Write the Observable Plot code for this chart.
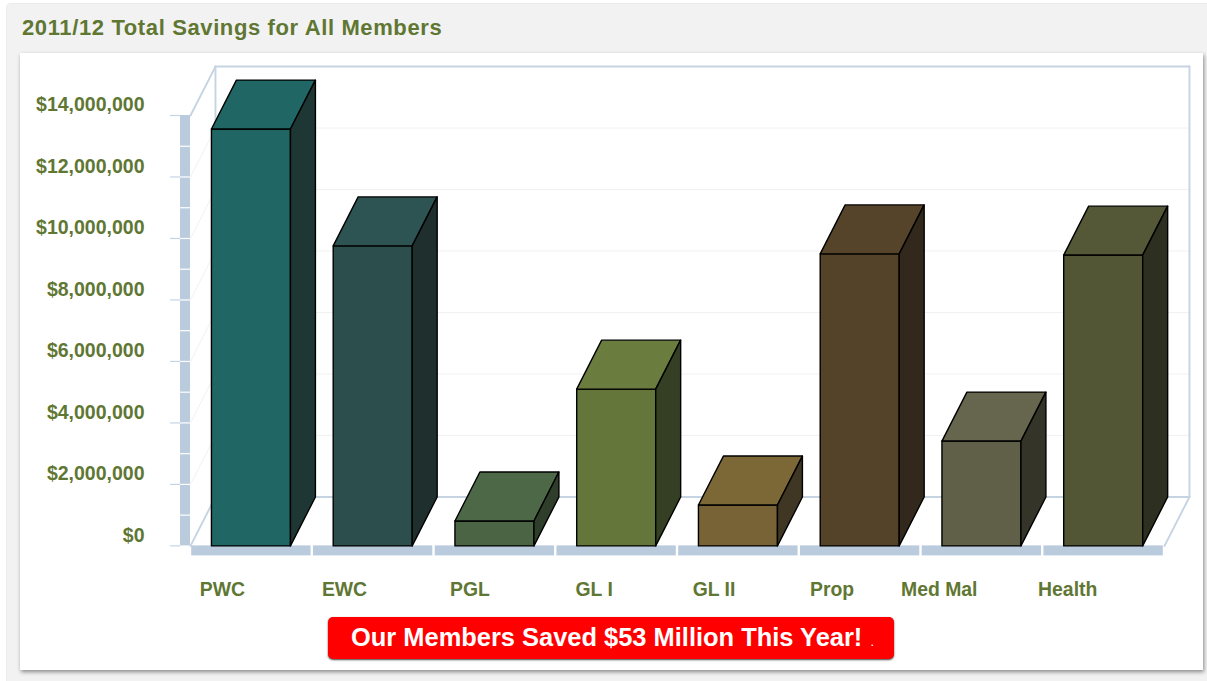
<!DOCTYPE html>
<html>
<head>
<meta charset="utf-8">
<script src="https://cdn.jsdelivr.net/npm/d3@7"></script>
<script src="https://cdn.jsdelivr.net/npm/@observablehq/plot@0.6"></script>
<style>
  html, body { margin: 0; padding: 0; background: #fff; overflow: hidden; }
  body { width: 1207px; height: 681px; position: relative; font-family: "Liberation Sans", Arial, sans-serif; }
  #panel { position: absolute; left: 6px; top: 3px; width: 1201px; height: 678px; background: #f2f2f2;
           border-top: 1px solid #ebebeb; border-left: 1px solid #ebebeb; border-top-left-radius: 5px; box-sizing: border-box; }
  #title { position: absolute; left: 22px; top: 15px; font-size: 22px; font-weight: bold; color: #5f7733; letter-spacing: 0.62px; white-space: nowrap; }
  #card { position: absolute; left: 20px; top: 53px; width: 1183px; height: 617px; background: #fff; box-shadow: 1px 2px 4px #8a8a8a; }
  #chart svg { display: block; }
  #banner { position: absolute; left: 308px; top: 564px; width: 566px; height: 42px; background: #ff0000; border-radius: 5px;
            box-shadow: 0 1px 2px #444; color: #fff; font-weight: bold; font-size: 25.45px; line-height: 40px; white-space: nowrap; }
  #banner span { position: absolute; left: 23px; top: 0; }
  #banner i { position: absolute; left: 543px; top: 6px; font-size: 9px; font-style: normal; }
</style>
</head>
<body>
<div id="panel"></div>
<div id="title">2011/12 Total Savings for All Members</div>
<div id="card">
  <div id="chart"></div>
  <div id="banner"><span>Our Members Saved $53 Million This Year!</span><i>.</i></div>
</div>
<script>
// Savings per line of coverage, in dollars
const categories = ["PWC", "EWC", "PGL", "GL I", "GL II", "Prop", "Med Mal", "Health"];
const savings = [13560000, 9760000, 810000, 5100000, 1330000, 9500000, 3410000, 9460000];
const frontColors = ["#206664", "#2c4f4e", "#4b6544", "#64763a", "#786336", "#544328", "#605f47", "#535634"];
const topColors = ["#206664", "#2d5352", "#4d6847", "#6a7c3e", "#7c6737", "#56442a", "#66654e", "#555836"];
const sideColors = ["#1e3634", "#1f2f2e", "#2f3e2a", "#343f24", "#3f3724", "#32291c", "#343429", "#2d2f20"];
const labelNudge = [-0.238, -0.235, -0.205, -0.185, -0.2, -0.23, -0.35, -0.295];
const yTicks = [0, 2e6, 4e6, 6e6, 8e6, 10e6, 12e6, 14e6];
const yMinorTicks = [1e6, 3e6, 5e6, 7e6, 9e6, 11e6, 13e6];

// Oblique projection, expressed in scale units (slots across, dollars up)
const depthX = 0.205;
const depthY = 1592000;
const barStart = 0.172;
const barWidth = 0.649;
const stripX = 0.082;
const stripY = 325000;
const ceiling = 14000000;
const slots = categories.length;

const wallColor = "#c6d4e2";
const stripColor = "#b9cbdd";
const gridColor = "#f1f1f1";
const inkColor = "#5f7733";

// One closed polygon per bar face
const faces = categories.flatMap((name, i) => {
  const x0 = i + barStart, x1 = x0 + barWidth, v = savings[i];
  const poly = (face, color, pts) => [...pts, pts[0]].map(([x, y]) => ({id: `${name}-${face}`, color, x, y}));
  return [
    ...poly("front", frontColors[i], [[x0, 0], [x1, 0], [x1, v], [x0, v]]),
    ...poly("top", topColors[i], [[x0, v], [x1, v], [x1 + depthX, v + depthY], [x0 + depthX, v + depthY]]),
    ...poly("side", sideColors[i], [[x1, 0], [x1 + depthX, depthY], [x1 + depthX, v + depthY], [x1, v]])
  ];
});

// Straight segments of the chart box
const seg = (a, b) => [{x: a[0], y: a[1]}, {x: b[0], y: b[1]}];
const wallEdges = [
  seg([0, ceiling], [depthX, ceiling + depthY]),
  seg([depthX, ceiling + depthY], [slots + depthX, ceiling + depthY]),
  seg([slots + depthX, ceiling + depthY], [slots + depthX, depthY]),
  seg([depthX, ceiling + depthY], [depthX, depthY]),
  seg([depthX, depthY], [slots + depthX, depthY]),
  seg([0, 0], [depthX, depthY]),
  seg([slots, 0], [slots + depthX, depthY])
];
const gridEdges = yTicks.slice(1, -1).flatMap(v => [
  seg([0, v], [depthX, v + depthY]),
  seg([depthX, v + depthY], [slots + depthX, v + depthY])
]);

const usd = d3.format("$,.0f");

const chart = Plot.plot({
  width: 1183,
  height: 560,
  marginLeft: 170,
  marginRight: 39,
  marginTop: 62,
  marginBottom: 67.6,
  x: {type: "linear", domain: [0, slots], axis: null},
  y: {type: "linear", domain: [0, ceiling]},
  color: {type: "identity"},
  style: {background: "transparent", overflow: "visible", fontFamily: "'Liberation Sans', Arial, sans-serif"},
  marks: [
    // back wall, side wall and floor outlines
    ...gridEdges.map(e => Plot.line(e, {x: "x", y: "y", stroke: gridColor, strokeWidth: 1})),
    ...wallEdges.map(e => Plot.line(e, {x: "x", y: "y", stroke: wallColor, strokeWidth: 1.9})),

    // thick left and bottom edges of the box
    Plot.rect([0], {x1: -stripX, x2: 0, y1: 0, y2: ceiling, fill: stripColor}),
    Plot.ruleY(yMinorTicks.concat(yTicks.slice(1, -1)), {x1: -stripX, x2: 0, stroke: "#fff", strokeWidth: 1.2}),
    Plot.rect(categories, {x1: (d, i) => i, x2: (d, i) => i + 1, y1: 0, y2: -stripY, fill: stripColor, insetLeft: 1.2, insetRight: 1.2}),
    Plot.ruleY(yTicks, {x1: -2 * stripX, x2: -stripX, stroke: wallColor, strokeWidth: 1.2}),

    // dollar labels
    Plot.axisY(yTicks, {
      anchor: "left",
      tickSize: 0,
      tickPadding: 46,
      dy: -10.3,
      tickFormat: usd,
      label: null,
      fontSize: 19.5,
      fontWeight: "bold",
      fill: inkColor
    }),

    // bars
    Plot.line(faces, {
      x: "x", y: "y", z: "id",
      fill: "color",
      stroke: "#000",
      strokeWidth: 1.4,
      strokeOpacity: 1,
      strokeLinejoin: "round",
      curve: "linear"
    }),

    // category names
    Plot.text(categories, {
      x: (d, i) => i + 0.5 + labelNudge[i],
      y: -1420000,
      text: d => d,
      fontSize: 19.4,
      fontWeight: "bold",
      fill: inkColor
    })
  ]
});
document.getElementById("chart").append(chart);
</script>
</body>
</html>
